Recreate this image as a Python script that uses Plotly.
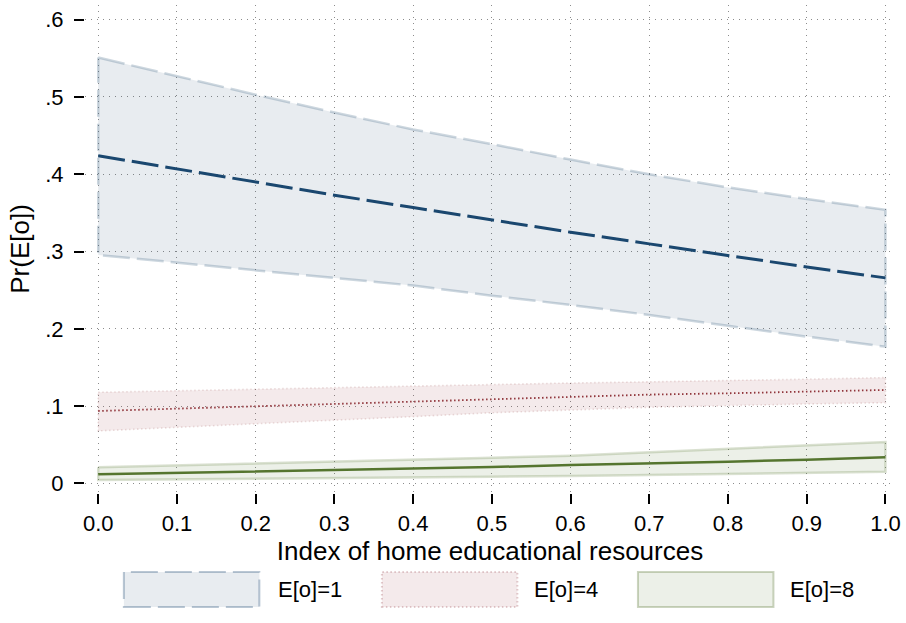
import plotly.graph_objects as go

# Index of home educational resources (x) and predicted probabilities with 95% CI
x_vals = [0.0, 0.1, 0.2, 0.3, 0.4, 0.5, 0.6, 0.7, 0.8, 0.9, 1.0]

e1_mean = [0.424, 0.407, 0.390, 0.373, 0.357, 0.341, 0.325, 0.310, 0.295, 0.280, 0.266]
e1_upper = [0.551, 0.527, 0.503, 0.480, 0.458, 0.439, 0.419, 0.400, 0.383, 0.368, 0.354]
e1_lower = [0.2956, 0.286, 0.276, 0.266, 0.256, 0.243, 0.231, 0.218, 0.204, 0.190, 0.177]

e4_mean = [0.0938, 0.0968, 0.0998, 0.1028, 0.1059, 0.1090, 0.1120, 0.1150, 0.1167, 0.1188, 0.1210]
e4_upper = [0.118, 0.120, 0.122, 0.124, 0.126, 0.1287, 0.130, 0.1315, 0.133, 0.135, 0.137]
e4_lower = [0.068, 0.0725, 0.077, 0.0817, 0.0865, 0.0915, 0.095, 0.0985, 0.1007, 0.1029, 0.1045]

e8_mean = [0.0119, 0.0137, 0.0155, 0.0175, 0.0197, 0.0213, 0.0238, 0.0256, 0.0282, 0.0308, 0.0339]
e8_upper = [0.021, 0.0233, 0.0256, 0.028, 0.0304, 0.0334, 0.036, 0.0403, 0.0442, 0.0485, 0.0537]
e8_lower = [0.0045, 0.0053, 0.006, 0.007, 0.008, 0.0088, 0.0098, 0.011, 0.0122, 0.0136, 0.0151]

series_names = ["E[o]=1", "E[o]=4", "E[o]=8"]

x_ticks = [0.0, 0.1, 0.2, 0.3, 0.4, 0.5, 0.6, 0.7, 0.8, 0.9, 1.0]
x_tick_text = ["0.0", "0.1", "0.2", "0.3", "0.4", "0.5", "0.6", "0.7", "0.8", "0.9", "1.0"]
y_ticks = [0, 0.1, 0.2, 0.3, 0.4, 0.5, 0.6]
y_tick_text = ["0", ".1", ".2", ".3", ".4", ".5", ".6"]

FONT = "Liberation Sans, Arial, Helvetica, sans-serif"

styles = [
    dict(line="#1a476f", band_fill="rgba(26,71,111,0.10)", band_line="rgba(26,71,111,0.22)",
         legend_line="rgba(26,71,111,0.30)",
         dash="27px,7px", band_dash="27px,7px", width=3, band_width=2.5),
    dict(line="#90353b", band_fill="rgba(144,53,59,0.10)", band_line="rgba(144,53,59,0.16)",
         legend_line="rgba(144,53,59,0.25)",
         dash="1.5px,2.5px", band_dash="1.5px,2.5px", width=1.8, band_width=1.6),
    dict(line="#55752f", band_fill="rgba(85,117,47,0.11)", band_line="rgba(85,117,47,0.22)",
         legend_line="rgba(85,117,47,0.30)",
         dash="solid", band_dash="solid", width=2.5, band_width=2.5),
]
bands = [(e1_lower, e1_upper), (e4_lower, e4_upper), (e8_lower, e8_upper)]
means = [e1_mean, e4_mean, e8_mean]

fig = go.Figure()

# Confidence bands as closed polygons so the outline also runs along both ends
for (lo, hi), st, name in zip(bands, styles, series_names):
    fig.add_trace(go.Scatter(
        x=x_vals + x_vals[::-1] + [x_vals[0]],
        y=hi + lo[::-1] + [hi[0]],
        fill="toself", fillcolor=st["band_fill"],
        line=dict(color=st["band_line"], width=st["band_width"], dash=st["band_dash"]),
        mode="lines", name=name, showlegend=False, hoverinfo="skip",
    ))

for m, st, name in zip(means, styles, series_names):
    fig.add_trace(go.Scatter(
        x=x_vals, y=m, mode="lines", name=name, showlegend=False,
        line=dict(color=st["line"], width=st["width"], dash=st["dash"]),
    ))

# Plot-area geometry in pixels (for the legend drawn below the axes)
W, H = 906, 623
L, R, T, B = 85, 8, 5, 130
pw, ph = W - L - R, H - T - B


def px_x(p):
    return (p - L) / pw


def px_y(p):
    return (H - B - p) / ph


legend_boxes = [(124, 260), (383, 519), (640, 776)]
legend_text_x = [277, 534, 791]
box_top, box_bot = 572, 607
for (x0, x1), tx, st, name in zip(legend_boxes, legend_text_x, styles, series_names):
    fig.add_shape(type="rect", xref="paper", yref="paper",
                  x0=px_x(x0), x1=px_x(x1), y0=px_y(box_bot), y1=px_y(box_top),
                  fillcolor=st["band_fill"],
                  line=dict(color=st["legend_line"], width=2, dash=st["band_dash"]))
    fig.add_annotation(xref="paper", yref="paper", x=px_x(tx), y=px_y((box_top + box_bot) / 2),
                       text=name, showarrow=False, xanchor="left", yanchor="middle",
                       font=dict(family=FONT, size=22, color="black"))

grid = dict(showgrid=True, gridcolor="#8c8c8c", gridwidth=1, griddash="1px,5px",
            zeroline=False, showline=False, ticks="outside", ticklen=10, tickwidth=1.5,
            tickcolor="black", tickfont=dict(family=FONT, size=22, color="black"))

fig.update_layout(
    width=W, height=H,
    margin=dict(l=L, r=R, t=T, b=B),
    paper_bgcolor="white", plot_bgcolor="white",
    showlegend=False,
    xaxis=dict(range=[-0.0168, 1.0121], tickvals=x_ticks, ticktext=x_tick_text,
               title=dict(text="Index of home educational resources",
                          font=dict(family=FONT, size=26, color="black"), standoff=3),
               ticklabelstandoff=1, **grid),
    yaxis=dict(range=[-0.0123, 0.619], tickvals=y_ticks, ticktext=y_tick_text,
               title=dict(text="Pr(E[o])", font=dict(family=FONT, size=26, color="black"),
                          standoff=8),
               ticklabelstandoff=6, **grid),
)

fig.write_html("out.html")
